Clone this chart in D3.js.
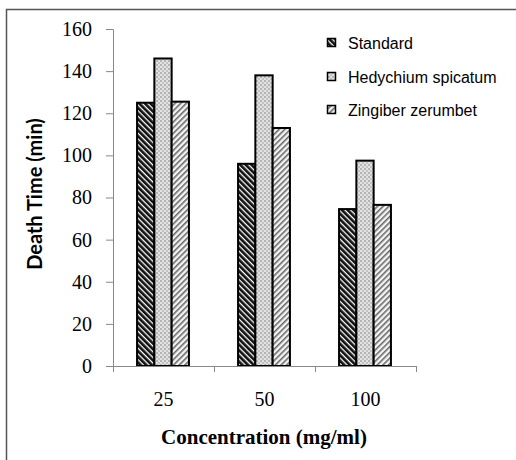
<!DOCTYPE html>
<html><head><meta charset="utf-8">
<script src="https://cdn.jsdelivr.net/npm/d3@7"></script>
<style>body{margin:0;background:#fff}svg{display:block}</style>
</head><body>
<script>
const categories = ["25", "50", "100"];
const seriesNames = ["Standard", "Hedychium spicatum", "Zingiber zerumbet"];
const standard = [125, 96, 74.5];
const hedychium = [146, 138, 97.5];
const zingiber = [125.5, 113, 76.5];
const yTicks = [0, 20, 40, 60, 80, 100, 120, 140, 160];
const seriesValues = [standard, hedychium, zingiber];

(function(){
const W = 516, H = 460;
const svg = d3.select("body").append("svg").attr("width", W).attr("height", H);
const defs = svg.append("defs");

const p1 = defs.append("pattern").attr("id","pStd").attr("patternUnits","userSpaceOnUse")
  .attr("width",4).attr("height",4).attr("patternTransform","rotate(-45)");
p1.append("rect").attr("width",4).attr("height",4).attr("fill","#fff");
p1.append("rect").attr("width",2.7).attr("height",4).attr("fill","#111");

const p2 = defs.append("pattern").attr("id","pHed").attr("patternUnits","userSpaceOnUse")
  .attr("width",4).attr("height",4);
p2.append("rect").attr("width",4).attr("height",4).attr("fill","#e2e2e2");
p2.append("rect").attr("width",2).attr("height",2).attr("fill","#b4b4b4");
p2.append("rect").attr("x",2).attr("y",2).attr("width",2).attr("height",2).attr("fill","#c2c2c2");

const p3 = defs.append("pattern").attr("id","pZin").attr("patternUnits","userSpaceOnUse")
  .attr("width",4).attr("height",4).attr("patternTransform","rotate(45)");
p3.append("rect").attr("width",4).attr("height",4).attr("fill","#f4f4f4");
p3.append("rect").attr("width",1.6).attr("height",4).attr("fill","#6a6a6a");

const fills = ["url(#pStd)", "url(#pHed)", "url(#pZin)"];

svg.append("rect").attr("x",6.5).attr("y",9.5).attr("width",W+10).attr("height",H+10)
  .attr("fill","none").attr("stroke","#555").attr("stroke-width",1.5);

const mLeft = 113, mRight = 416, mTop = 29, mBottom = 366;
const x0 = d3.scaleBand().domain(categories).range([mLeft, mRight]).paddingInner(0).paddingOuter(0);
const x1 = d3.scaleBand().domain(seriesNames).range([0, x0.bandwidth()]).paddingInner(0).paddingOuter(1.42);
const y = d3.scaleLinear().domain([0, 160]).range([mBottom, mTop]);

categories.forEach((c, ci) => {
  seriesNames.forEach((s, si) => {
    const v = seriesValues[si][ci];
    svg.append("rect")
      .attr("x", x0(c) + x1(s) - 0.5)
      .attr("y", y(v))
      .attr("width", x1.bandwidth())
      .attr("height", y(0) - y(v))
      .attr("fill", fills[si])
      .attr("stroke", "#000").attr("stroke-width", 2);
  });
});

const yAxis = d3.axisLeft(y).tickValues(yTicks).tickSize(7).tickPadding(14);
const gy = svg.append("g").attr("transform", `translate(${mLeft},0)`).call(yAxis);
gy.select(".domain").attr("stroke","#888").attr("d", `M-7,${mTop}.5H0.5V${mBottom}`);
gy.selectAll(".tick line").attr("stroke","#888");
gy.selectAll(".tick text").attr("font-family","'Liberation Serif', serif").attr("font-size",20).attr("fill","#000");

const xAxis = d3.axisBottom(x0).tickSize(0).tickPadding(26);
const gx = svg.append("g").attr("transform", `translate(0,${mBottom})`).call(xAxis);
gx.select(".domain").attr("stroke","#888").attr("d", `M${mLeft},0.5H${mRight}`);
gx.selectAll(".tick text").attr("font-family","'Liberation Serif', serif").attr("font-size",20).attr("fill","#000");
const bounds = categories.map(c => x0(c)).concat([x0(categories[categories.length-1]) + x0.bandwidth()]);
gx.selectAll(".bt").data(bounds).enter().append("line").attr("class","bt")
  .attr("x1", d => d + 0.5).attr("x2", d => d + 0.5).attr("y1", 0).attr("y2", 6).attr("stroke","#888");

svg.append("text").attr("transform","translate(42,194) rotate(-90)")
  .attr("text-anchor","middle").attr("font-family","Lato, sans-serif")
  .attr("font-weight","bold").attr("font-size",20).text("Death Time (min)");
svg.append("text").attr("x",264).attr("y",444).attr("text-anchor","middle")
  .attr("font-family","'Liberation Serif', serif").attr("font-weight","bold").attr("font-size",21)
  .text("Concentration (mg/ml)");

const legY = [43, 77, 110];
seriesNames.forEach((s, i) => {
  svg.append("rect").attr("x",327.5).attr("y",legY[i]-4.5).attr("width",8).attr("height",8)
    .attr("fill",fills[i]).attr("stroke","#000").attr("stroke-width",1.5);
  svg.append("text").attr("x",348).attr("y",legY[i]+6)
    .attr("font-family","'Liberation Sans', Arial, sans-serif").attr("font-size",16).text(s);
});
})();
</script>
</body></html>
